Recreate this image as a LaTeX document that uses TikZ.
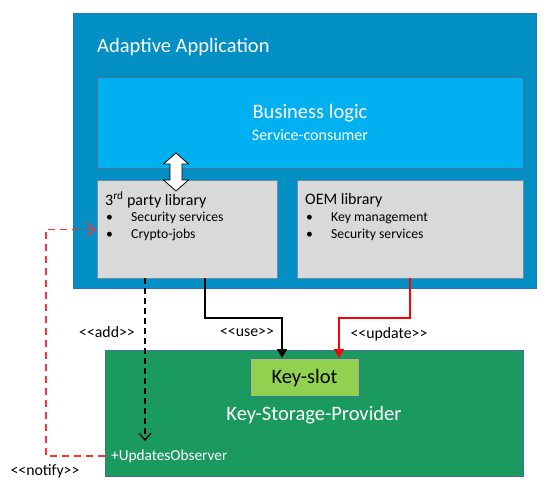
\documentclass[tikz,border=0pt]{standalone}
\usepackage{fontspec}
\setmainfont{Carlito}
\usetikzlibrary{arrows.meta}
\definecolor{appblue}{HTML}{028FC3}
\definecolor{appborder}{HTML}{2E75B6}
\definecolor{bizblue}{HTML}{00B0F0}
\definecolor{libgray}{HTML}{D9D9D9}
\definecolor{kspgreen}{HTML}{1B9A5F}
\definecolor{keygreen}{HTML}{92D050}
\definecolor{boxline}{HTML}{41719C}
\definecolor{notifyred}{HTML}{FF3333}
\newcommand\dlt{<\kern0pt<}
\newcommand\dgt{>\kern0pt>}
\tikzset{
  boxbase/.style={draw=boxline, line width=0.8pt, inner sep=0pt, anchor=north west},
  wtext/.style={text=white, inner sep=0pt},
  btext/.style={text=black, inner sep=0pt},
  lbl/.style={font=\fontsize{15.8}{18}\selectfont, text=black, inner sep=0pt},
  bul/.style={font=\fontsize{13.7}{16}\selectfont, text=black, inner sep=0pt, anchor=west},
  openhead/.style={-{Straight Barb[length=7pt,width=12pt,line width=1.2pt]}},
  solidhead/.style={-{Triangle[length=9pt,width=10pt]}}
}
\begin{document}
\begin{tikzpicture}[x=1pt,y=-1pt]
\useasboundingbox (0,0) rectangle (558,491);
% outer application box
\node[boxbase, draw=appborder, fill=appblue, minimum width=463pt, minimum height=275pt] (app) at (73,13) {};
\node[wtext, anchor=west, font=\fontsize{20.5}{24}\selectfont] (apptitle) at (97,47) {Adaptive Application};
% business logic
\node[boxbase, fill=bizblue, minimum width=426pt, minimum height=91pt] (biz) at (97,77) {};
\node[wtext, font=\fontsize{20.5}{24}\selectfont] (biztitle) at (310,113) {Business logic};
\node[wtext, font=\fontsize{16}{19}\selectfont] (bizsub) at (310,135) {Service-consumer};
% libraries
\node[boxbase, draw=boxline!80, fill=libgray, minimum width=180pt, minimum height=98pt] (third) at (97,180) {};
\node[boxbase, draw=boxline!80, fill=libgray, minimum width=226pt, minimum height=98pt] (oem) at (297,180) {};
\node[btext, anchor=west, font=\fontsize{16}{19}\selectfont] (thirdtitle) at (105,200) {3\textsuperscript{rd} party library};
\node[bul] (tb1) at (106,218) {•};
\node[bul] (tt1) at (131,218) {Security services};
\node[bul] (tb2) at (106,235) {•};
\node[bul] (tt2) at (131,235) {Crypto-jobs};
\node[btext, anchor=west, font=\fontsize{16}{19}\selectfont] (oemtitle) at (305,200) {OEM library};
\node[bul] (ob1) at (306,218) {•};
\node[bul] (ot1) at (331,218) {Key management};
\node[bul] (ob2) at (306,235) {•};
\node[bul] (ot2) at (331,235) {Security services};
% double arrow between business logic and 3rd party library
\draw[black, line width=0.8pt, fill=white, line join=miter]
  (176,153) -- (188.5,164) -- (182,164) -- (182,180) -- (188.5,180) -- (176,191)
  -- (163.5,180) -- (170,180) -- (170,164) -- (163.5,164) -- cycle;
% key storage provider
\node[boxbase, fill=kspgreen, minimum width=418pt, minimum height=126pt] (ksp) at (105,350) {};
\node[boxbase, fill=keygreen, minimum width=109pt, minimum height=38pt] (slot) at (250,358) {};
\node[btext, font=\fontsize{20.5}{24}\selectfont] (slottext) at (304.5,378) {Key-slot};
\node[wtext, font=\fontsize{20.5}{24}\selectfont] (ksptext) at (314,415) {Key-Storage-Provider};
\node[wtext, anchor=west, font=\fontsize{15.3}{18}\selectfont] (obs) at (111,456) {+UpdatesObserver};
% connectors
\coordinate (addstart) at (145,278);
\coordinate (addend) at (145,441);
\draw[black, line width=1.2pt, dash pattern=on 6pt off 4pt, openhead] (addstart) -- (addend);
\coordinate (usestart) at (205,278);
\coordinate (useend) at (282,358);
\draw[black, line width=1.8pt, solidhead] (usestart) |- (243,318) -| (useend);
\coordinate (updstart) at (410,278);
\coordinate (updend) at (339,358);
\draw[red, line width=1.8pt, solidhead] (updstart) |- (375,318) -| (updend);
\coordinate (notstart) at (105,456);
\coordinate (notcorner) at (46,456);
\coordinate (notpre) at ([xshift=-3pt]third.west);
\draw[notifyred, line width=1.4pt, dash pattern=on 7pt off 5pt] (notstart) -- (notcorner) |- (notpre);
\draw[notifyred, line width=1.4pt, -{Straight Barb[length=8pt,width=13pt,line width=1.4pt]}] (notpre) -- ([xshift=-1pt]third.west);
% labels
\node[lbl] (addlbl) at (107,332) {\dlt add\dgt};
\node[lbl] (uselbl) at (247,332) {\dlt use\dgt};
\node[lbl] (updlbl) at (389,334) {\dlt update\dgt};
\node[lbl] (notlbl) at (45,471) {\dlt notify\dgt};
\end{tikzpicture}
\end{document}
